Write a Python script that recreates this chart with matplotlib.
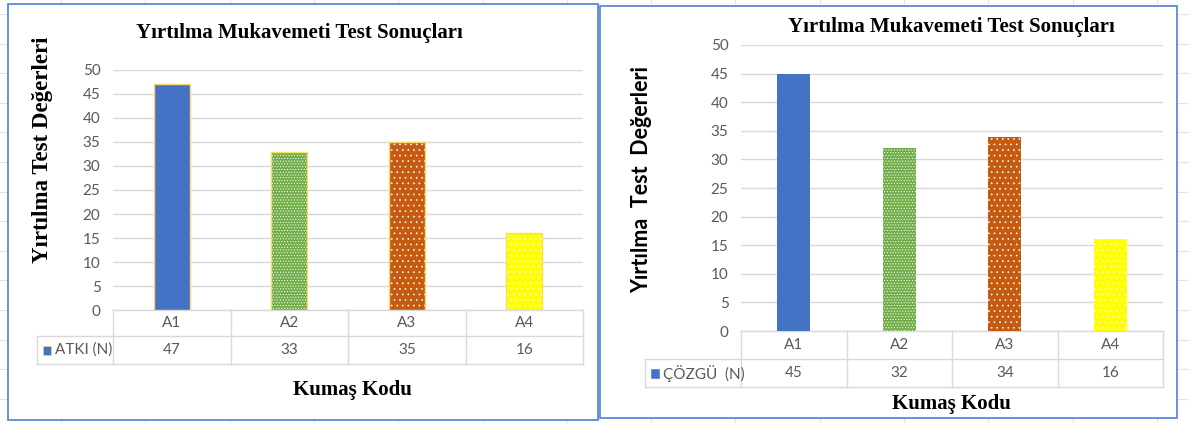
import matplotlib
matplotlib.use("Agg")
import matplotlib.pyplot as plt
from matplotlib.lines import Line2D
from matplotlib.patches import Rectangle
import matplotlib.transforms as mtransforms

# ---------------- data ----------------
categories = ["A1", "A2", "A3", "A4"]
atki_values = [47, 33, 35, 16]
cozgu_values = [45, 32, 34, 16]
atki_label = "ATKI (N)"
cozgu_label = "ÇÖZGÜ  (N)"
chart_title = "Yırtılma Mukavemeti Test Sonuçları"
ylabel_left = "Yırtılma Test Değerleri"
ylabel_right = "Yırtılma  Test  Değerleri"
xlabel_text = "Kumaş Kodu"
y_ticks = [0, 5, 10, 15, 20, 25, 30, 35, 40, 45, 50]

bar_colors = ["#4472C4", "#70AD47", "#C55A11", "#FFFF00"]
bar_hatches = [None, "......", "...", "..."]

plt.rcParams["hatch.linewidth"] = 0.45

W, H = 1189, 423
fig = plt.figure(figsize=(W / 100, H / 100), dpi=100)
fig.patch.set_facecolor("white")

SANS = ["Lato", "DejaVu Sans"]
SERIF = ["Liberation Serif", "DejaVu Serif"]
GRAY = "#595959"
GRID = "#d9d9d9"


def fx(x):
    return x / W


def fy(y):
    return 1 - y / H


def fline(x0, y0, x1, y1, color=GRID, lw=1.0, z=1):
    fig.add_artist(Line2D([fx(x0), fx(x1)], [fy(y0), fy(y1)], color=color,
                          lw=lw, transform=fig.transFigure, zorder=z))


# faint spreadsheet grid in the background
for k in range(15):
    x = 61 + 84.3 * k
    fline(x, 0, x, H, color="#e3e3e3", lw=0.8, z=0)
for k in range(15):
    y = 14 + 29.6 * k
    fline(0, y, W, y, color="#e3e3e3", lw=0.8, z=0)

BORDER = "#5a88d8"


def chart(box, plot, table, legend_x, values, label, title_xy, ylab, ylab_xy,
          ylab_font, ylab_size, xlab_xy, edge):
    # chart box
    bx0, by0, bx1, by1 = box
    fig.add_artist(Rectangle((fx(bx0), fy(by1)), fx(bx1 - bx0), (by1 - by0) / H,
                             transform=fig.transFigure, facecolor="white",
                             edgecolor=BORDER, lw=1.3, zorder=0.5))
    px0, py_top, px1, py0 = plot
    ax = fig.add_axes([fx(px0), fy(py0), fx(px1 - px0), (py0 - py_top) / H])
    ax.set_zorder(2)
    ax.patch.set_alpha(0)
    ax.set_xlim(-0.5, len(categories) - 0.5)
    ax.set_ylim(0, 50)
    ax.set_yticks(y_ticks)
    ax.set_xticks([])
    ax.tick_params(axis="y", length=0, pad=9, labelsize=11, labelcolor=GRAY)
    for t in ax.get_yticklabels():
        t.set_fontfamily(SANS)
    for s in ax.spines.values():
        s.set_visible(False)
    ax.yaxis.grid(True, color=GRID, lw=1.0)
    ax.set_axisbelow(True)

    xs = list(range(len(categories)))
    width = 0.31
    for i, (xv, v) in enumerate(zip(xs, values)):
        ax.bar(xv, v, width=width, color=bar_colors[i], edgecolor="white",
               linewidth=0, hatch=bar_hatches[i], zorder=2)
        if edge:
            ax.bar(xv, v, width=width, color="none", edgecolor=edge,
                   linewidth=1.0, zorder=3)

    # data table
    t_top, t_mid, t_bot = table
    tr = mtransforms.blended_transform_factory(ax.transData, fig.transFigure)
    col_w = (px1 - px0) / len(categories)
    fline(px0, t_top, px1, t_top)
    fline(legend_x, t_mid, px1, t_mid)
    fline(legend_x, t_bot, px1, t_bot)
    fline(legend_x, t_mid, legend_x, t_bot)
    for k in range(len(categories) + 1):
        x = px0 + k * col_w
        fline(x, t_top, x, t_bot)
    for xv, c, v in zip(xs, categories, values):
        ax.text(xv, fy((t_top + t_mid) / 2), c, transform=tr, ha="center",
                va="center", fontsize=11, color=GRAY, family=SANS, clip_on=False)
        ax.text(xv, fy((t_mid + t_bot) / 2), str(v), transform=tr, ha="center",
                va="center", fontsize=11, color=GRAY, family=SANS, clip_on=False)
    # legend key
    ym = (t_mid + t_bot) / 2
    fig.add_artist(Rectangle((fx(legend_x + 6), fy(ym + 4.5)), fx(8), 9 / H,
                             transform=fig.transFigure, facecolor=bar_colors[0],
                             edgecolor=edge if edge else bar_colors[0], lw=0.4, zorder=3))
    fig.text(fx(legend_x + 18), fy(ym), label, ha="left", va="center",
             fontsize=11, color=GRAY, family=SANS)

    fig.text(fx(title_xy[0]), fy(title_xy[1]), chart_title, ha="center",
             va="center", fontsize=15, fontweight="bold", family=SERIF)
    fig.text(fx(ylab_xy[0]), fy(ylab_xy[1]), ylab, ha="center", va="center",
             rotation=90, fontsize=ylab_size, fontweight="bold", family=ylab_font)
    fig.text(fx(xlab_xy[0]), fy(xlab_xy[1]), xlabel_text, ha="center",
             va="center", fontsize=15, fontweight="bold", family=SERIF)
    return ax


chart(box=(8, 4, 598, 420), plot=(113, 70, 583, 310), table=(310, 336, 364),
      legend_x=37, values=atki_values, label=atki_label, title_xy=(299, 33),
      ylab=ylabel_left, ylab_xy=(43, 150), ylab_font=SERIF, ylab_size=16.5,
      xlab_xy=(352, 390), edge="#FFD966")

chart(box=(600, 6, 1177, 418), plot=(741, 45, 1163, 331), table=(331, 359, 387),
      legend_x=645, values=cozgu_values, label=cozgu_label, title_xy=(951, 27),
      ylab=ylabel_right, ylab_xy=(642, 180), ylab_font=["Lato", "DejaVu Sans"],
      ylab_size=15.5, xlab_xy=(951, 404), edge=None)

fig.savefig("out.png", dpi=100, facecolor="white")
